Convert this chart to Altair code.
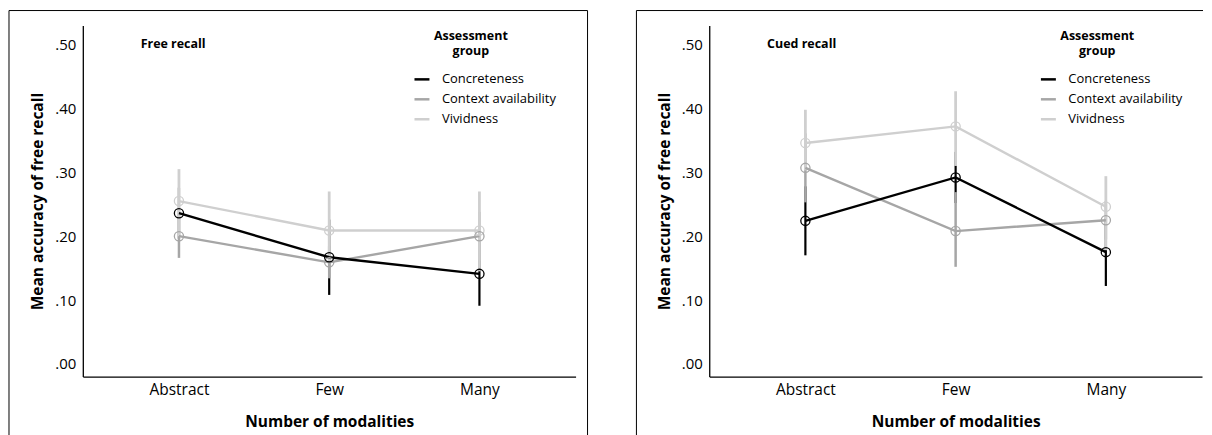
import altair as alt
import pandas as pd

groups = ["Concreteness", "Context availability", "Vividness"]
modalities = ["Abstract", "Few", "Many"]
colors = ["#000000", "#a6a6a6", "#cfcfcf"]

# Free recall (means and error-bar ends) per group, in modality order
free_mean = {
    "Concreteness": [0.236, 0.167, 0.141],
    "Context availability": [0.200, 0.159, 0.200],
    "Vividness": [0.255, 0.209, 0.209],
}
free_lo = {
    "Concreteness": [0.196, 0.108, 0.091],
    "Context availability": [0.166, 0.134, 0.162],
    "Vividness": [0.200, 0.158, 0.145],
}
free_hi = {
    "Concreteness": [0.276, 0.226, 0.191],
    "Context availability": [0.234, 0.184, 0.238],
    "Vividness": [0.305, 0.270, 0.270],
}

# Cued recall
cued_mean = {
    "Concreteness": [0.224, 0.292, 0.175],
    "Context availability": [0.307, 0.208, 0.225],
    "Vividness": [0.346, 0.372, 0.246],
}
cued_lo = {
    "Concreteness": [0.170, 0.252, 0.122],
    "Context availability": [0.253, 0.152, 0.195],
    "Vividness": [0.303, 0.310, 0.178],
}
cued_hi = {
    "Concreteness": [0.278, 0.332, 0.228],
    "Context availability": [0.361, 0.269, 0.255],
    "Vividness": [0.398, 0.427, 0.294],
}

legend_title = "Assessment\ngroup"
FONT = "Open Sans"


def make_df(mean, lo, hi):
    rows = []
    for gi, g in enumerate(groups):
        for mi, m in enumerate(modalities):
            rows.append(dict(group=g, mod=m, mean=mean[g][mi], lo=lo[g][mi],
                             hi=hi[g][mi], z=gi))
    return pd.DataFrame(rows)


def panel(df, label, left, top, bottom, right_end, right_border):
    W = 494
    xenc = alt.X("mod:N", sort=modalities,
                 scale=alt.Scale(type="point", padding=0.64),
                 axis=alt.Axis(title="Number of modalities", labelAngle=0, ticks=False,
                               labelFontSize=15.5, labelPadding=6, titleFontSize=15.5,
                               titleFontWeight="bold", titlePadding=17,
                               domainColor="#000000", domainWidth=1.3,
                               labelColor="#000000", titleColor="#000000"))
    yscale = alt.Scale(domain=[-0.02, 0.53], nice=False, zero=False)
    yaxis = alt.Axis(values=[0, 0.1, 0.2, 0.3, 0.4, 0.5],
                     labelExpr="substring(format(datum.value, '.2f'), 1)",
                     title="Mean accuracy of free recall", grid=False, ticks=False,
                     labelFontSize=15, labelPadding=7, titleFontSize=15.5,
                     titleFontWeight="bold", titlePadding=9,
                     domainColor="#000000", domainWidth=1.3,
                     labelColor="#000000", titleColor="#000000")
    ytitle = "Mean accuracy of free recall"
    cscale = alt.Scale(domain=groups, range=colors)
    legend = alt.Legend(orient="none", legendX=331, legendY=45, title=None,
                        labelFontSize=13, labelOffset=11,
                        symbolType="stroke", symbolSize=225,
                        symbolStrokeWidth=2.5, rowPadding=4,
                        labelColor="#000000")
    base = alt.Chart(df)

    bar_layers = []
    for g, sw in zip(groups, [2.2, 2.5, 2.8]):
        bar_layers.append(
            base.transform_filter(alt.datum.group == g).mark_rule(strokeWidth=sw).encode(
                x=xenc,
                y=alt.Y("lo:Q", scale=yscale, axis=yaxis, title=ytitle),
                y2="hi:Q",
                color=alt.Color("group:N", scale=cscale, legend=legend),
            )
        )

    line_layers = []
    for g in reversed(groups):
        line_layers.append(
            base.transform_filter(alt.datum.group == g).mark_line(strokeWidth=2.4).encode(
                x=xenc,
                y=alt.Y("mean:Q", scale=yscale, axis=yaxis, title=ytitle),
                color=alt.Color("group:N", scale=cscale, legend=legend),
            )
        )

    pts = base.mark_point(filled=False, size=85, strokeWidth=1.3, opacity=1).encode(
        x=xenc,
        y=alt.Y("mean:Q", scale=yscale, axis=yaxis, title=ytitle),
        color=alt.Color("group:N", scale=cscale, legend=legend),
        order=alt.Order("z:Q", sort="descending"),
    )

    lab = alt.Chart(pd.DataFrame({"t": [label]})).mark_text(
        align="left", baseline="middle", fontWeight="bold", fontSize=12.5,
        font=FONT, color="#000000"
    ).encode(text="t:N", x=alt.value(58), y=alt.value(19))

    legtitle = alt.Chart(pd.DataFrame({"t": [legend_title]})).mark_text(
        align="center", baseline="top", fontWeight="bold", fontSize=12.5,
        font=FONT, color="#000000", lineBreak="\n", lineHeight=15
    ).encode(text="t:N", x=alt.value(389), y=alt.value(5))

    one = pd.DataFrame({"a": [0]})
    border = [
        alt.Chart(one).mark_rule(color="#000000", strokeWidth=1).encode(
            x=alt.value(left), y=alt.value(top), y2=alt.value(bottom)),
        alt.Chart(one).mark_rule(color="#000000", strokeWidth=1).encode(
            x=alt.value(left), x2=alt.value(right_end), y=alt.value(top)),
    ]
    if right_border:
        border.append(alt.Chart(one).mark_rule(color="#000000", strokeWidth=1).encode(
            x=alt.value(right_end), y=alt.value(top), y2=alt.value(bottom)))

    return alt.layer(*bar_layers, *line_layers, pts, lab, legtitle, *border).properties(
        width=W, height=352)


left = panel(make_df(free_mean, free_lo, free_hi), "Free recall", -74, -15, 420, 506, True)
right = panel(make_df(cued_mean, cued_lo, cued_hi), "Cued recall", -73, -15, 420, 495, False)

chart = alt.hconcat(left, right, spacing=47).resolve_scale(
    color="independent"
).resolve_legend(color="independent").properties(
    padding={"left": 0, "top": 1, "right": 0, "bottom": 0}
).configure(font=FONT).configure_view(strokeWidth=0)

chart.save("out.html", embed_options={"renderer": "svg", "actions": False})
